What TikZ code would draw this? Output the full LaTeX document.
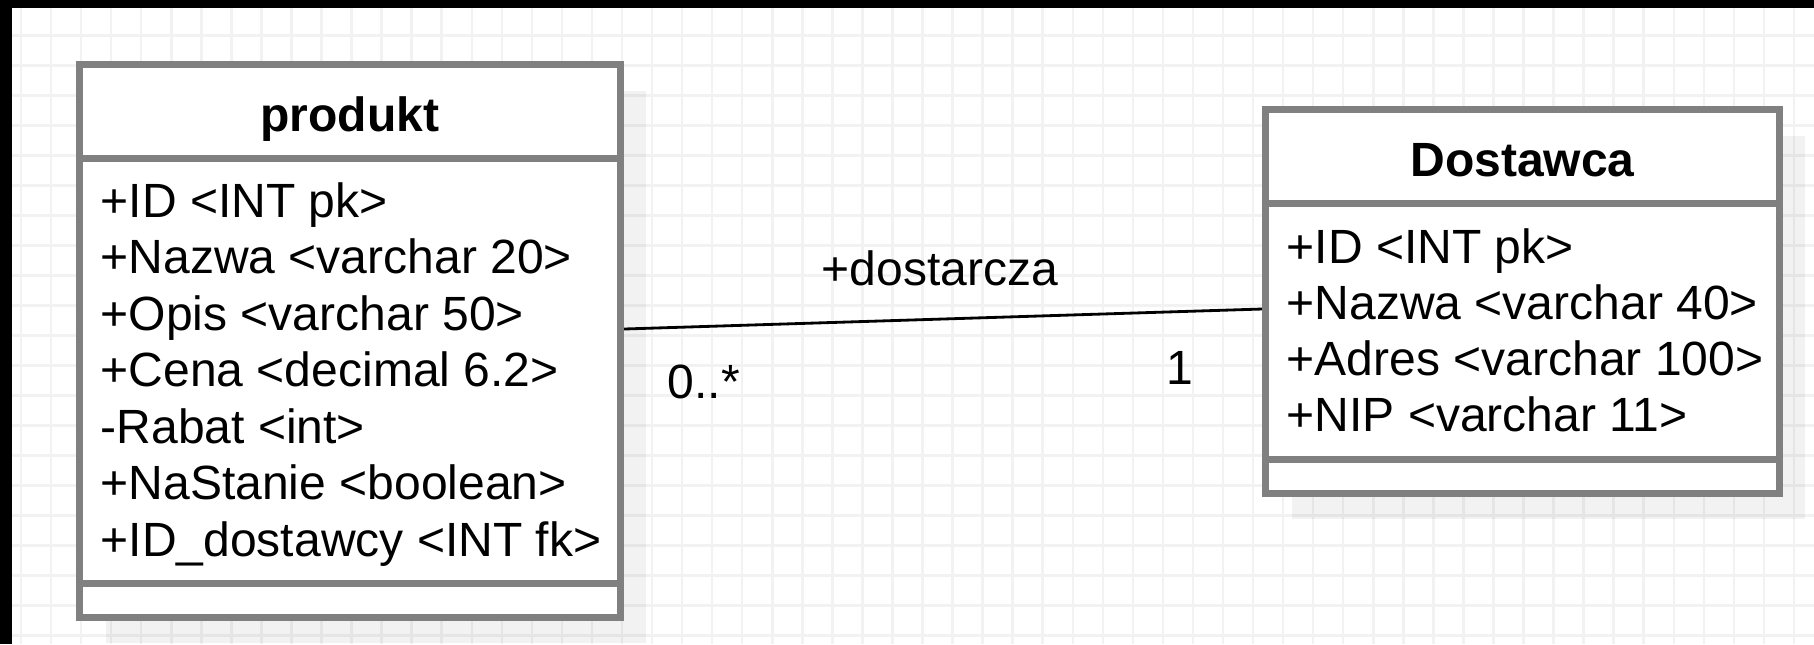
\documentclass[tikz,border=0pt]{standalone}
\usepackage{fontspec}
\setmainfont{Liberation Sans}
\usetikzlibrary{backgrounds}
\usepackage{xcolor}
\definecolor{bClass}  {HTML}{808080}
\definecolor{cGrid}   {HTML}{F2F2F2}
\newcommand{\umlfont}{\fontsize{13.66pt}{16pt}\selectfont}
\tikzset{
  classbox/.style={draw=bClass, fill=white, line width=0.07cm, inner sep=0pt},
  sepline/.style ={draw=bClass, line width=0.07cm},
  classname/.style={anchor=base, inner sep=0pt, font=\umlfont\bfseries},
  attr/.style    ={anchor=base west, inner sep=0pt, font=\umlfont},
  lbl/.style     ={anchor=base west, inner sep=0pt, font=\umlfont},
  assoc/.style   ={draw=black, line width=0.8pt},
  shadowbox/.style={fill=black, fill opacity=0.05},
  gridline/.style={draw=cGrid, line width=0.025cm},
}

\begin{document}
\begin{tikzpicture}[x=0.01cm, y=-0.01cm]
\useasboundingbox (0,0) rectangle (1814,644);

% ── X levels of the attribute lists ───────────────────────────────────────────
\def\xprod{100}
\def\xdost{1286}

% ── Class boxes ───────────────────────────────────────────────────────────────

\node[classbox, minimum width=5.41cm, minimum height=5.53cm] (produkt) at (350, 341) {};
\node[classbox, minimum width=5.14cm, minimum height=3.84cm] (dostawca) at (1522.5, 301.5) {};

% compartments
\draw[sepline] (produkt.west |- 0,158.5) -- (produkt.east |- 0,158.5);
\draw[sepline] (produkt.west |- 0,583.5) -- (produkt.east |- 0,583.5);
\draw[sepline] (dostawca.west |- 0,203.5) -- (dostawca.east |- 0,203.5);
\draw[sepline] (dostawca.west |- 0,459) -- (dostawca.east |- 0,459);

% ── produkt ───────────────────────────────────────────────────────────────────

\node[classname] (prodname) at (350, 131) {produkt};

\node[attr] (pid)    at (\xprod, 217)   {+ID <INT pk>};
\node[attr] (pnazwa) at (\xprod, 273.5) {+Nazwa <varchar 20>};
\node[attr] (popis)  at (\xprod, 330)   {+Opis <varchar 50>};
\node[attr] (pcena)  at (\xprod, 386.5) {+Cena <decimal 6.2>};
\node[attr] (prabat) at (\xprod, 443)   {-Rabat <int>};
\node[attr] (pstan)  at (\xprod, 499.5) {+NaStanie <boolean>};
\node[attr] (pfk)    at (\xprod, 556)   {+ID\_dostawcy <INT fk>};

% ── Dostawca ──────────────────────────────────────────────────────────────────

\node[classname] (dostname) at (1522.5, 176) {Dostawca};

\node[attr] (did)    at (\xdost, 263) {+ID <INT pk>};
\node[attr] (dnazwa) at (\xdost, 319) {+Nazwa <varchar 40>};
\node[attr] (dadres) at (\xdost, 375) {+Adres <varchar 100>};
\node[attr] (dnip)   at (\xdost, 431) {+NIP <varchar 11>};

% ── Association ───────────────────────────────────────────────────────────────

\draw[assoc] ([yshift=0.12cm]produkt.east) -- ([yshift=-0.075cm]dostawca.west);

\node[lbl] (role)  at (821, 285)  {+dostarcza};
\node[lbl] (multp) at (667, 398)  {0..*};
\node[lbl] (multd) at (1166, 384) {1};

% ── Grid and shadows ──────────────────────────────────────────────────────────
\begin{scope}[on background layer]
  \foreach \gx in {21,51.05,...,1814}
    \draw[gridline] (\gx, 8) -- (\gx, 644);
  \foreach \gy in {35.5,65.5,...,644}
    \draw[gridline] (12, \gy) -- (1814, \gy);
  \fill[shadowbox] ([shift={(30,30)}]produkt.north west)
    rectangle ([shift={(22,22)}]produkt.south east);
  \fill[shadowbox] ([shift={(30,30)}]dostawca.north west)
    rectangle ([shift={(22,22)}]dostawca.south east);
\end{scope}

% ── Window edge ───────────────────────────────────────────────────────────────
\fill[black] (0,0) rectangle (12,644);
\fill[black] (0,0) rectangle (1814,8);

\end{tikzpicture}
\end{document}
